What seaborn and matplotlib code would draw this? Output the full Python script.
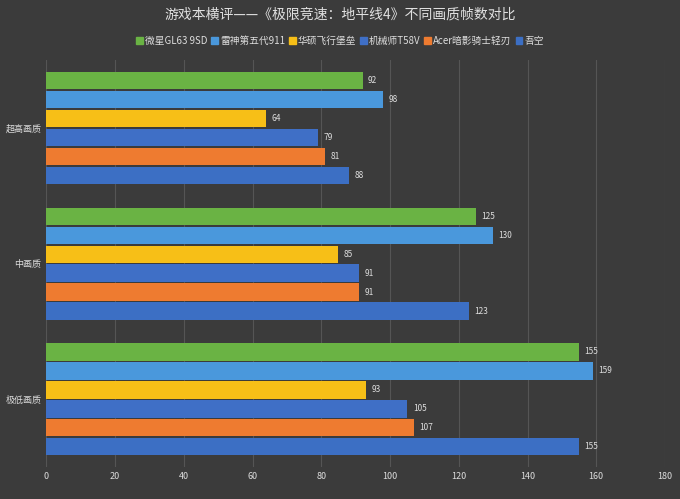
import matplotlib.pyplot as plt
import seaborn as sns
import pandas as pd

plt.rcParams["font.family"] = "Noto Sans CJK SC"

qualities = ["超高画质", "中画质", "极低画质"]
laptops = ["微星GL63 9SD", "雷神第五代911", "华硕飞行堡垒", "机械师T58V", "Acer暗影骑士轻刃", "吾空"]
fps = {
    "微星GL63 9SD": [92, 125, 155],
    "雷神第五代911": [98, 130, 159],
    "华硕飞行堡垒": [64, 85, 93],
    "机械师T58V": [79, 91, 105],
    "Acer暗影骑士轻刃": [81, 91, 107],
    "吾空": [88, 123, 155],
}
colors = ["#6ab344", "#4a98dc", "#f7bf17", "#3f6fc6", "#ee7b30", "#3c6fc4"]

rows = [(q, n, fps[n][i]) for n in laptops for i, q in enumerate(qualities)]
df = pd.DataFrame(rows, columns=["quality", "laptop", "fps"])

fig = plt.figure(figsize=(6.8, 4.99), dpi=100, facecolor="#3b3b3b")
ax = fig.add_axes([0.068, 0.064, 0.91, 0.815])
ax.set_facecolor("#3b3b3b")

sns.barplot(data=df, y="quality", x="fps", hue="laptop", order=qualities,
            hue_order=laptops, palette=colors, orient="h", width=0.84, gap=0.08,
            saturation=1, ax=ax, legend=False)

for c in ax.containers:
    ax.bar_label(c, padding=4, color="#dddddd", fontsize=6)

ax.set_xlim(0, 180)
ax.set_xticks(range(0, 181, 20))
ax.grid(axis="x", color="#555555", linewidth=0.8)
ax.set_axisbelow(True)
for s in ax.spines.values():
    s.set_visible(False)
ax.tick_params(length=0, colors="#dddddd", labelsize=6.5)
ax.set_xlabel("")
ax.set_ylabel("")

handles = [plt.Rectangle((0, 0), 1, 1, color=c) for c in colors]
fig.legend(handles, laptops, loc="upper center", bbox_to_anchor=(0.5, 0.945), ncol=6,
           frameon=False, fontsize=7, labelcolor="#dddddd", handlelength=0.7,
           handleheight=0.7, handletextpad=0.2, columnspacing=0.4)
fig.suptitle("游戏本横评——《极限竞速：地平线4》不同画质帧数对比", y=0.985,
             color="#e0e0e0", fontsize=10)

fig.savefig("out.png", facecolor=fig.get_facecolor())
